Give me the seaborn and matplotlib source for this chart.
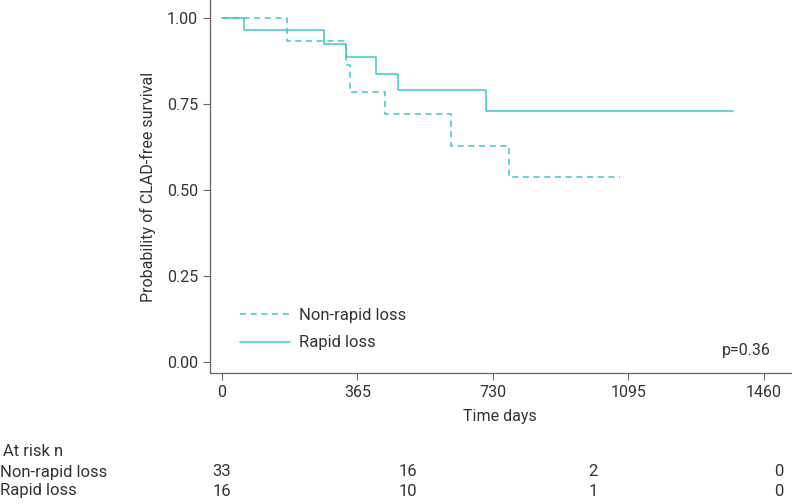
import pandas as pd
import matplotlib.pyplot as plt
import matplotlib.transforms as mtransforms
import seaborn as sns

# Kaplan-Meier steps
nonrapid_time = [0, 175, 334, 346, 440, 616, 773, 1073]
nonrapid_surv = [1.0, 0.932, 0.863, 0.784, 0.72, 0.628, 0.539, 0.539]
rapid_time = [0, 59, 275, 334, 415, 474, 711, 1376]
rapid_surv = [1.0, 0.965, 0.924, 0.885, 0.836, 0.79, 0.728, 0.728]
groups = ['Non-rapid loss', 'Rapid loss']

# number at risk table
risk_times = [0, 500, 1000, 1500]
risk_nonrapid = [33, 16, 2, 0]
risk_rapid = [16, 10, 1, 0]

x_ticks = [0, 365, 730, 1095, 1460]
y_ticks = [0.0, 0.25, 0.5, 0.75, 1.0]

teal = '#3fc5c9'
text_col = '#333333'

df = pd.concat([
    pd.DataFrame({'time': nonrapid_time, 'surv': nonrapid_surv, 'group': groups[0]}),
    pd.DataFrame({'time': rapid_time, 'surv': rapid_surv, 'group': groups[1]}),
])

sns.set_style('ticks')
plt.rcParams['font.family'] = ['Roboto', 'DejaVu Sans']

fig = plt.figure(figsize=(7.98, 5.04), dpi=100)
ax = fig.add_axes([0.263, 0.26, 0.728, 0.74])

sns.lineplot(data=df, x='time', y='surv', hue='group', style='group',
             palette={g: teal for g in groups},
             dashes={groups[0]: (4, 3), groups[1]: ''},
             estimator=None, drawstyle='steps-post', linewidth=1.1, ax=ax)

ax.set_xlim(-32, 1532)
ax.set_ylim(-0.032, 1.052)
ax.set_xticks(x_ticks)
ax.set_xticklabels([str(t) for t in x_ticks])
ax.set_yticks(y_ticks)
ax.set_yticklabels([f'{t:.2f}' for t in y_ticks])
ax.tick_params(colors=text_col, labelsize=11.5, length=5, width=0.8, color='#666666')
for side in ['left', 'bottom']:
    ax.spines[side].set_color('#666666')
    ax.spines[side].set_linewidth(0.9)
sns.despine(ax=ax)

ax.set_xlabel('Time days', fontsize=11.5, color=text_col, labelpad=7)
ax.set_ylabel('Probability of CLAD-free survival', fontsize=11.5, color=text_col, labelpad=8)

handles, labels = ax.get_legend_handles_labels()
leg = ax.legend(handles, labels, loc='lower left', bbox_to_anchor=(0.038, 0.038),
                frameon=False, fontsize=12, handlelength=3.0, handletextpad=0.5,
                labelspacing=0.75, borderpad=0)
for t in leg.get_texts():
    t.set_color(text_col)

ax.text(0.965, 0.06, 'p=0.36', transform=ax.transAxes, ha='right', va='center',
        fontsize=11.5, color=text_col)

# at risk table under the plot
trans = mtransforms.blended_transform_factory(ax.transData, fig.transFigure)
fig.text(0.004, 1 - 452 / 504, 'At risk n', fontsize=12, color=text_col, va='center')
rows = [(groups[0], risk_nonrapid, 1 - 472 / 504), (groups[1], risk_rapid, 1 - 491 / 504)]
for name, counts, yy in rows:
    fig.text(0.0, yy, name, fontsize=12, color=text_col, va='center')
    for t, n in zip(risk_times, counts):
        ax.text(t, yy, str(n), transform=trans, ha='center', va='center',
                fontsize=12, color=text_col, clip_on=False)

fig.savefig('out.png', dpi=100)
